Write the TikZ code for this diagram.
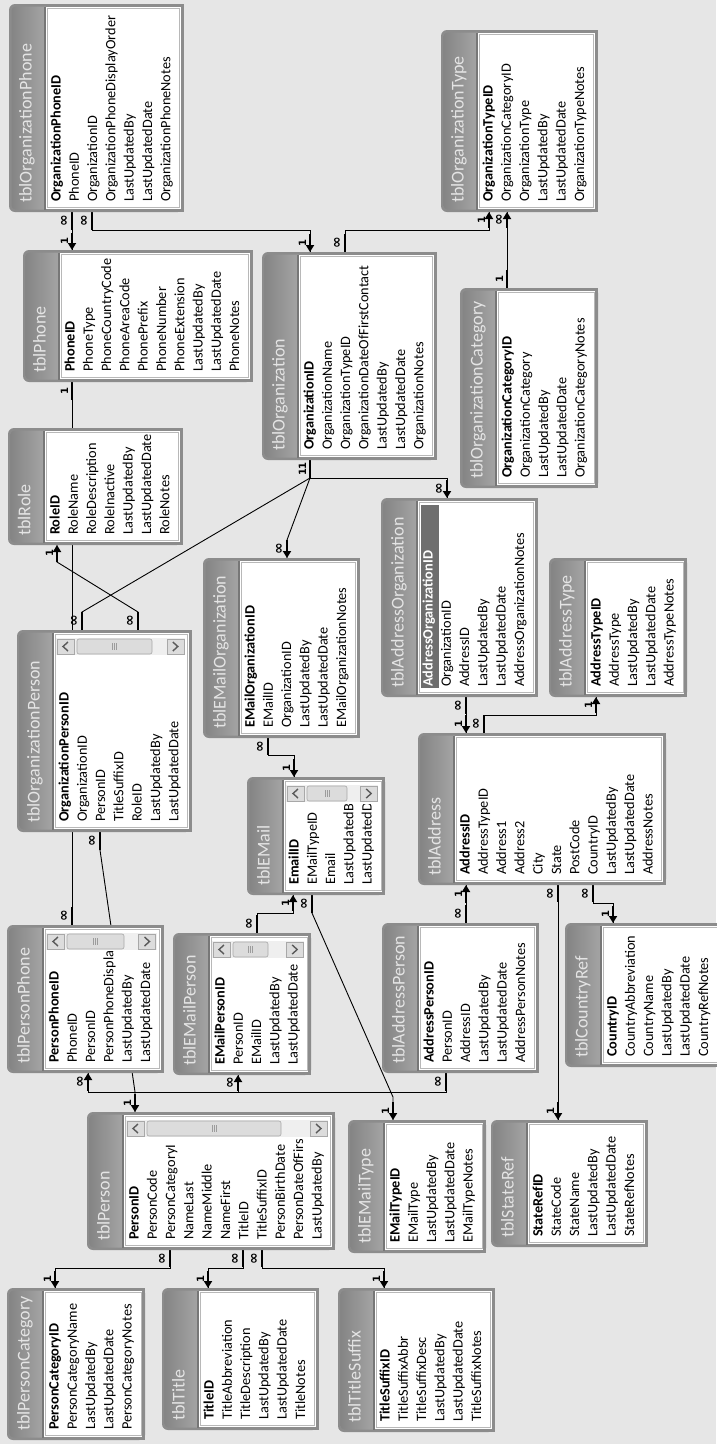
\documentclass[tikz,border=0pt]{standalone}
\usepackage{fontspec}
\setmainfont{Carlito}
\newfontfamily\lblfamily{DejaVu Sans}
\usetikzlibrary{arrows.meta, backgrounds}
\definecolor{CanvasGray}{HTML}{E6E6E6}
\definecolor{FrameGray}{HTML}{8C8C8C}
\definecolor{FrameDark}{HTML}{777777}
\definecolor{BarDark}{HTML}{858585}
\definecolor{BarLight}{HTML}{A8A8A8}
\definecolor{TitleText}{HTML}{E4E4E4}
\definecolor{InnerLine}{HTML}{B8B8B8}
\definecolor{ScrollBg}{HTML}{EFEFEF}
\definecolor{BtnFill}{HTML}{DCDCDC}
\definecolor{BtnEdge}{HTML}{A8A8A8}
\definecolor{Chevron}{HTML}{5A5A5A}
\definecolor{SelGray}{HTML}{6E6E6E}

\newcommand{\fieldfont}{\fontsize{14.3}{16}\selectfont}
\newcommand{\titlefont}{\fontsize{18}{20}\selectfont}
\newcommand{\lblfont}{\lblfamily\bfseries\fontsize{10}{10}\selectfont}
\newcommand{\mny}{{\fontsize{14}{14}\selectfont ∞}}
\newcommand{\keyfmt}{\bfseries}

\newcommand{\dbtable}[7]{%
  \foreach \fld [count=\idx] in {#7} {\xdef\nf{\idx}}%
  \pgfmathsetmacro\tblw{65+18.3*(\nf-1)}%
  \pgfmathsetmacro\tblh{#4-#3}%
  \node[tblnode, minimum width=\tblw pt, minimum height=\tblh pt] (#1) at (#2,#3) {};
  \fill[FrameGray, rounded corners=6pt] (#1.north west) rectangle (#1.south east);
  \fill[FrameGray] ([xshift=12pt]#1.north west) rectangle (#1.south east);
  \shade[left color=BarDark, right color=BarLight, rounded corners=4pt]
    ([shift={(2.5pt,-2.5pt)}]#1.north west) rectangle ([shift={(40pt,2.5pt)}]#1.south west);
  \fill[FrameDark] ([shift={(35pt,-2.5pt)}]#1.north west) rectangle ([shift={(37pt,2.5pt)}]#1.south west);
  \fill[white] ([shift={(37pt,-3pt)}]#1.north west) rectangle ([shift={(-3pt,3pt)}]#1.south east);
  \draw[InnerLine] ([shift={(38.5pt,-4.5pt)}]#1.north west) rectangle ([shift={(-4.5pt,4.5pt)}]#1.south east);
  \fill[selrow] ([shift={(40pt,-7pt)}]#1.north west) rectangle ([shift={(58pt,9pt)}]#1.south west);
  \node[tbltitle] at ([shift={(20pt,9pt)}]#1.south west) {#6};
  \begin{scope}
    \clip ([shift={(37pt,-#5pt)}]#1.north west) rectangle ([shift={(-4pt,3pt)}]#1.south east);
    \foreach \fld [count=\idx] in {#7} {%
      \pgfmathsetmacro\fx{49+18.3*(\idx-1)}%
      \node[field] at ([shift={(\fx pt,10pt)}]#1.south west) {\ifnum\idx=1 \keyfmt\fi\fld};
    }
  \end{scope}
}

\newcommand{\scrollbar}[2]{%
  \fill[ScrollBg] ([shift={(39pt,-8pt)}]#1.north west) rectangle ([shift={(-7pt,-25pt)}]#1.north east);
  \filldraw[scrollbtn] ([shift={(40pt,-9pt)}]#1.north west) rectangle ++(17pt,-15pt);
  \filldraw[scrollbtn] ([shift={(-25pt,-9pt)}]#1.north east) rectangle ++(17pt,-15pt);
  \filldraw[scrollbtn, rounded corners=2pt] ([shift={(60pt,-9pt)}]#1.north west) rectangle ++(#2pt,-15pt);
  \draw[chevron] ([shift={(51pt,-12pt)}]#1.north west) -- ++(-5pt,-4.5pt) -- ++(5pt,-4.5pt);
  \draw[chevron] ([shift={(-19pt,-12pt)}]#1.north east) -- ++(5pt,-4.5pt) -- ++(-5pt,-4.5pt);
  \foreach \g in {-2pt,0pt,2pt}
    \draw[Chevron!60, line width=0.6pt] ([shift={(60pt+#2pt/2+\g,-13pt)}]#1.north west) -- ++(0pt,-7pt);
}

\newcommand{\relend}[4]{\draw[#1] #2 -- ++(0,#3) node[lbl, pos=.5] {#4};}

\begin{document}
\begin{tikzpicture}[
    x=1pt, y=-1pt,
    tblnode/.style={anchor=north west, inner sep=0pt, outer sep=0pt, draw=none},
    tbltitle/.style={rotate=90, anchor=west, inner sep=0pt, text=TitleText, font=\titlefont, text height=.7em, text depth=.2em},
    field/.style={rotate=90, anchor=west, inner sep=0pt, font=\fieldfont, text height=.7em, text depth=.2em},
    selrow/.style={fill=none},
    scrollbtn/.style={fill=BtnFill, draw=BtnEdge, line width=0.6pt},
    chevron/.style={draw=Chevron, line width=1.4pt},
    rel/.style={line width=0.9pt},
    one/.style={line width=2.8pt},
    tip/.style={line width=2.6pt, {Triangle[length=7pt, width=8pt]}-},
    lbl/.style={rotate=90, anchor=south, inner sep=2.5pt, font=\lblfont}
  ]
  \useasboundingbox (0,0) rectangle (716,1444);

  \dbtable{tblOrganizationPhone}{9}{4}{212}{3}{tblOrganizationPhone}{OrganizationPhoneID,PhoneID,OrganizationID,OrganizationPhoneDisplayOrder,LastUpdatedBy,LastUpdatedDate,OrganizationPhoneNotes}
  \dbtable{tblPhone}{23}{250}{382}{3}{tblPhone}{PhoneID,PhoneType,PhoneCountryCode,PhoneAreaCode,PhonePrefix,PhoneNumber,PhoneExtension,LastUpdatedBy,LastUpdatedDate,PhoneNotes}
  \dbtable{tblOrganization}{262}{252}{460}{3}{tblOrganization}{OrganizationID,OrganizationName,OrganizationTypeID,OrganizationDateOfFirstContact,LastUpdatedBy,LastUpdatedDate,OrganizationNotes}
  \dbtable{tblOrganizationType}{441}{30}{212}{3}{tblOrganizationType}{OrganizationTypeID,OrganizationCategoryID,OrganizationType,LastUpdatedBy,LastUpdatedDate,OrganizationTypeNotes}
  \dbtable{tblOrganizationCategory}{460}{288}{488}{3}{tblOrganizationCategory}{OrganizationCategoryID,OrganizationCategory,LastUpdatedBy,LastUpdatedDate,OrganizationCategoryNotes}
  \dbtable{tblRole}{8}{428}{545}{3}{tblRole}{RoleID,RoleName,RoleDescription,RoleInactive,LastUpdatedBy,LastUpdatedDate,RoleNotes}
  \dbtable{tblOrganizationPerson}{17}{630}{832}{27}{tblOrganizationPerson}{OrganizationPersonID,OrganizationID,PersonID,TitleSuffixID,RoleID,LastUpdatedBy,LastUpdatedDate}
  \dbtable{tblEMailOrganization}{203}{558}{738}{3}{tblEMailOrganization}{EMailOrganizationID,EMailID,OrganizationID,LastUpdatedBy,LastUpdatedDate,EMailOrganizationNotes}
  \dbtable{tblEMail}{247}{777}{895}{27}{tblEMail}{EmailID,EMailTypeID,Email,LastUpdatedB,LastUpdatedD}
  \dbtable{tblPersonPhone}{7}{925}{1073}{26}{tblPersonPhone}{PersonPhoneID,PhoneID,PersonID,PersonPhoneDispla,LastUpdatedBy,LastUpdatedDate}
  \dbtable{tblEMailPerson}{173}{933}{1075}{26}{tblEMailPerson}{EMailPersonID,PersonID,EMailID,LastUpdatedBy,LastUpdatedDate}
  \dbtable{tblPerson}{87}{1112}{1250}{27}{tblPerson}{PersonID,PersonCode,PersonCategoryI,NameLast,NameMiddle,NameFirst,TitleID,TitleSuffixID,PersonBirthDate,PersonDateOfFirs,LastUpdatedBy}
  \dbtable{tblPersonCategory}{7}{1288}{1440}{3}{tblPersonCategory}{PersonCategoryID,PersonCategoryName,LastUpdatedBy,LastUpdatedDate,PersonCategoryNotes}
  \dbtable{tblTitle}{162}{1288}{1430}{3}{tblTitle}{TitleID,TitleAbbreviation,TitleDescription,LastUpdatedBy,LastUpdatedDate,TitleNotes}
  \dbtable{tblTitleSuffix}{338}{1288}{1432}{3}{tblTitleSuffix}{TitleSuffixID,TitleSuffixAbbr,TitleSuffixDesc,LastUpdatedBy,LastUpdatedDate,TitleSuffixNotes}
  \dbtable{tblEMailType}{348}{1120}{1253}{3}{tblEMailType}{EMailTypeID,EMailType,LastUpdatedBy,LastUpdatedDate,EMailTypeNotes}
  \dbtable{tblStateRef}{491}{1120}{1247}{3}{tblStateRef}{StateRefID,StateCode,StateName,LastUpdatedBy,LastUpdatedDate,StateRefNotes}
  \dbtable{tblAddressPerson}{382}{923}{1073}{3}{tblAddressPerson}{AddressPersonID,PersonID,AddressID,LastUpdatedBy,LastUpdatedDate,AddressPersonNotes}
  \dbtable{tblCountryRef}{565}{923}{1067}{3}{tblCountryRef}{CountryID,CountryAbbreviation,CountryName,LastUpdatedBy,LastUpdatedDate,CountryRefNotes}
  \dbtable{tblAddress}{418}{733}{885}{3}{tblAddress}{AddressID,AddressTypeID,Address1,Address2,City,State,PostCode,CountryID,LastUpdatedBy,LastUpdatedDate,AddressNotes}
  \begin{scope}[selrow/.style={fill=SelGray}]
    \def\keyfmt{\bfseries\color{white}}
    \dbtable{tblAddressOrganization}{381}{498}{697}{3}{tblAddressOrganization}{AddressOrganizationID,OrganizationID,AddressID,LastUpdatedBy,LastUpdatedDate,AddressOrganizationNotes}
  \end{scope}
  \dbtable{tblAddressType}{549}{558}{697}{3}{tblAddressType}{AddressTypeID,AddressType,LastUpdatedBy,LastUpdatedDate,AddressTypeNotes}

  \scrollbar{tblOrganizationPerson}{75}
  \scrollbar{tblEMail}{40}
  \scrollbar{tblPersonPhone}{57}
  \scrollbar{tblEMailPerson}{35}
  \scrollbar{tblPerson}{134}

  \begin{scope}[on background layer]
    \fill[CanvasGray] (0,0) rectangle (716,1444);
    \coordinate (orgbus) at (310,478);
    \coordinate (personbus) at (135,1092);

    \draw[rel] (72,0 |- tblOrganizationPhone.south) -- (72,0 |- tblPhone.north);
    \relend{one}{(72,0 |- tblOrganizationPhone.south)}{18}{\mny}
    \relend{tip}{(72,0 |- tblPhone.north)}{-17}{1}

    \draw[rel] (92,0 |- tblOrganizationPhone.south) -- (92,230) -- (310,230) -- (310,0 |- tblOrganization.north);
    \relend{one}{(92,0 |- tblOrganizationPhone.south)}{18}{\mny}
    \relend{tip}{(310,0 |- tblOrganization.north)}{-18}{1}

    \draw[rel] (345,0 |- tblOrganization.north) -- (345,230) -- (489,230) -- (489,0 |- tblOrganizationType.south);
    \relend{one}{(345,0 |- tblOrganization.north)}{-18}{\mny}
    \relend{tip}{(489,0 |- tblOrganizationType.south)}{16}{1}

    \draw[rel] (507,0 |- tblOrganizationCategory.north) -- (507,0 |- tblOrganizationType.south);
    \relend{one}{(507,0 |- tblOrganizationCategory.north)}{-18}{1}
    \relend{tip}{(507,0 |- tblOrganizationType.south)}{16}{\mny}

    \draw[rel] (72,0 |- tblPhone.south) -- (72,0 |- tblPersonPhone.north);
    \relend{one}{(72,0 |- tblPhone.south)}{18}{1}
    \relend{one}{(72,0 |- tblPersonPhone.north)}{-18}{\mny}

    \draw[rel] (138,0 |- tblOrganizationPerson.north) -- (138,612) -- (57,562) -- (57,0 |- tblRole.south);
    \relend{one}{(138,0 |- tblOrganizationPerson.north)}{-18}{\mny}
    \relend{tip}{(57,0 |- tblRole.south)}{17}{1}

    \draw[rel] (310,0 |- tblOrganization.south) -- (orgbus) -- (82,612) -- (82,0 |- tblOrganizationPerson.north);
    \draw[rel] (orgbus) -- (287,540) -- (287,0 |- tblEMailOrganization.north);
    \draw[rel] (orgbus) -- (447,0 |- orgbus) -- (447,0 |- tblAddressOrganization.north);
    \relend{one}{(310,0 |- tblOrganization.south)}{18}{11}
    \relend{one}{(82,0 |- tblOrganizationPerson.north)}{-18}{\mny}
    \relend{tip}{(287,0 |- tblEMailOrganization.north)}{-18}{\mny}
    \relend{tip}{(447,0 |- tblAddressOrganization.north)}{-18}{\mny}

    \draw[rel] (100,0 |- tblOrganizationPerson.south) -- (100,850) -- (personbus) -- (135,0 |- tblPerson.north);
    \relend{one}{(100,0 |- tblOrganizationPerson.south)}{18}{\mny}
    \relend{tip}{(135,0 |- tblPerson.north)}{-18}{1}

    \draw[rel] (88,0 |- tblPersonPhone.south) -- (88,0 |- personbus) -- (446,0 |- personbus) -- (446,0 |- tblAddressPerson.south);
    \draw[rel] (238,0 |- tblEMailPerson.south) -- (238,0 |- personbus);
    \relend{tip}{(88,0 |- tblPersonPhone.south)}{18}{\mny}
    \relend{tip}{(238,0 |- tblEMailPerson.south)}{16}{\mny}
    \relend{one}{(446,0 |- tblAddressPerson.south)}{18}{\mny}

    \draw[rel] (268,0 |- tblEMailOrganization.south) -- (268,755) -- (294,755) -- (294,0 |- tblEMail.north);
    \relend{one}{(268,0 |- tblEMailOrganization.south)}{17}{\mny}
    \relend{tip}{(294,0 |- tblEMail.north)}{-18}{1}

    \draw[rel] (257,0 |- tblEMailPerson.north) -- (257,913) -- (293,913) -- (293,0 |- tblEMail.south);
    \relend{one}{(257,0 |- tblEMailPerson.north)}{-18}{\mny}
    \relend{tip}{(293,0 |- tblEMail.south)}{16}{1}

    \draw[rel] (312,0 |- tblEMail.south) -- (312,913) -- (393,1097) -- (393,0 |- tblEMailType.north);
    \relend{one}{(312,0 |- tblEMail.south)}{18}{\mny}
    \relend{tip}{(393,0 |- tblEMailType.north)}{-18}{1}

    \draw[rel] (466,0 |- tblAddressOrganization.south) -- (466,0 |- tblAddress.north);
    \relend{one}{(466,0 |- tblAddressOrganization.south)}{17}{\mny}
    \relend{tip}{(466,0 |- tblAddress.north)}{-18}{1}

    \draw[rel] (484,0 |- tblAddress.north) -- (484,715) -- (596,715) -- (596,0 |- tblAddressType.south);
    \relend{one}{(484,0 |- tblAddress.north)}{-18}{\mny}
    \relend{tip}{(596,0 |- tblAddressType.south)}{16}{1}

    \draw[rel] (466,0 |- tblAddressPerson.north) -- (466,0 |- tblAddress.south);
    \relend{one}{(466,0 |- tblAddressPerson.north)}{-18}{\mny}
    \relend{tip}{(466,0 |- tblAddress.south)}{18}{1}

    \draw[rel] (558,0 |- tblAddress.south) -- (558,0 |- tblStateRef.north);
    \relend{one}{(558,0 |- tblAddress.south)}{17}{\mny}
    \relend{tip}{(558,0 |- tblStateRef.north)}{-18}{1}

    \draw[rel] (593,0 |- tblAddress.south) -- (593,903) -- (613,903) -- (613,0 |- tblCountryRef.north);
    \relend{one}{(593,0 |- tblAddress.south)}{17}{\mny}
    \relend{tip}{(613,0 |- tblCountryRef.north)}{-17}{1}

    \draw[rel] (170,0 |- tblPerson.south) -- (170,1268) -- (55,1268) -- (55,0 |- tblPersonCategory.north);
    \draw[rel] (243,0 |- tblPerson.south) -- (243,1268) -- (208,1268) -- (208,0 |- tblTitle.north);
    \draw[rel] (262,0 |- tblPerson.south) -- (262,1268) -- (384,1268) -- (384,0 |- tblTitleSuffix.north);
    \relend{one}{(170,0 |- tblPerson.south)}{17}{\mny}
    \relend{one}{(243,0 |- tblPerson.south)}{17}{\mny}
    \relend{one}{(262,0 |- tblPerson.south)}{17}{\mny}
    \relend{tip}{(55,0 |- tblPersonCategory.north)}{-17}{1}
    \relend{tip}{(208,0 |- tblTitle.north)}{-17}{1}
    \relend{tip}{(384,0 |- tblTitleSuffix.north)}{-17}{1}
  \end{scope}
\end{tikzpicture}
\end{document}
